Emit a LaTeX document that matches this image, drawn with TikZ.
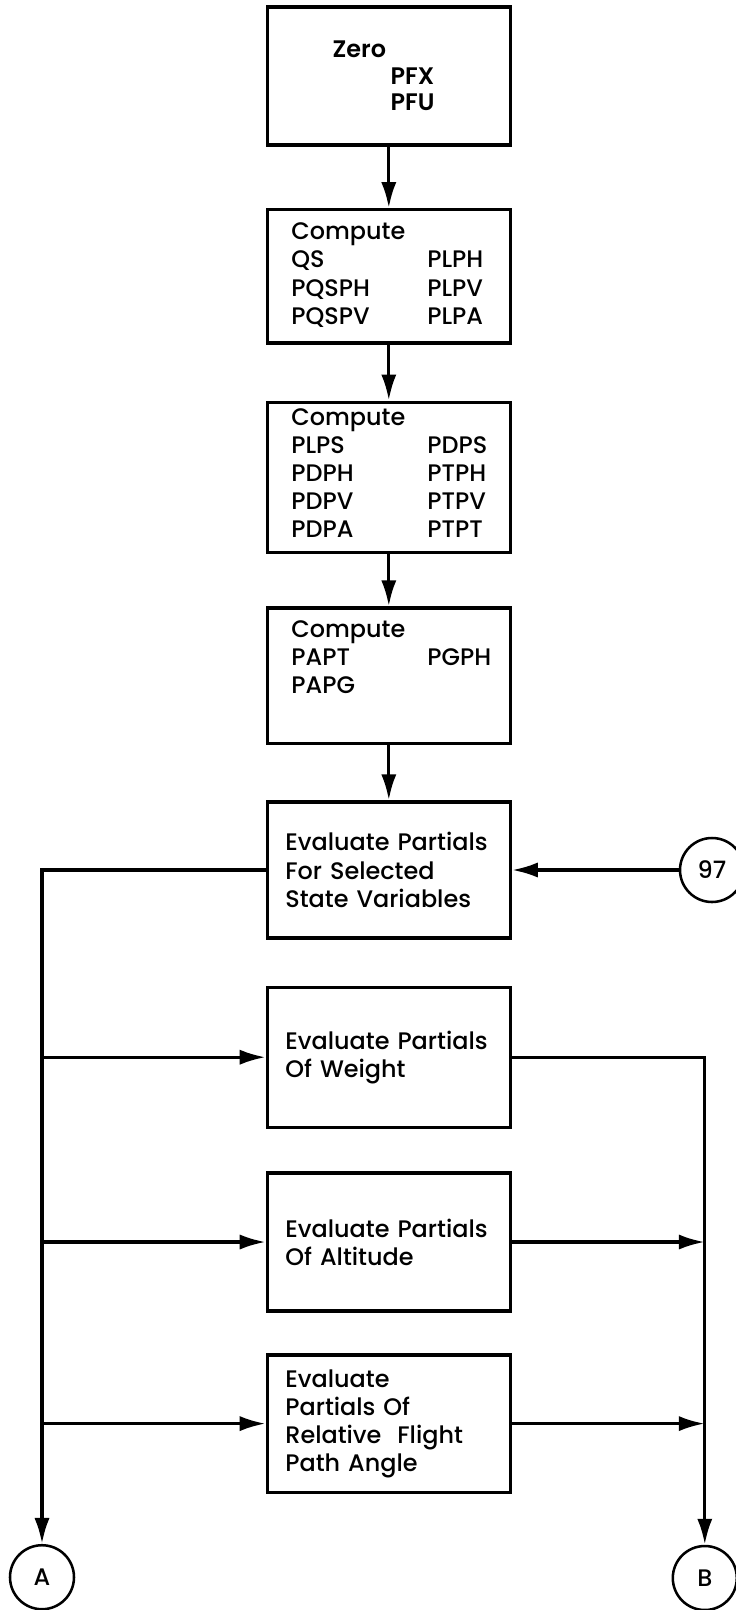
\documentclass[tikz,border=0pt]{standalone}
\usepackage{fontspec}
\setmainfont{Poppins}[UprightFont=* Medium, BoldFont=* SemiBold]
\usetikzlibrary{arrows.meta}

\begin{document}
\begin{tikzpicture}[
    >={Latex[length=0.65cm, width=0.38cm]},
    line/.style  = {line width=2.4pt},
    block/.style = {draw, line width=2.4pt, minimum width=6.07cm,
                    font=\fontsize{17}{20}\selectfont},
    cbox/.style  = {block, text width=4.87cm, inner xsep=0.6cm, inner ysep=0pt},
    ebox/.style  = {block, text width=5.17cm, inner xsep=0.45cm, align=left},
    conn/.style  = {draw, line width=1.8pt, circle, inner sep=0pt,
                    minimum size=1.6cm, font=\fontsize{17}{20}\selectfont}
]
\useasboundingbox (0, 0) rectangle (18.4, -40.25);

% Initialisation and compute blocks
\node[block, minimum height=3.45cm, text width=4.97cm, inner xsep=0.55cm,
      align=left, font=\fontsize{17}{19}\selectfont\bfseries] (Z) at (9.72, -1.9)
    {\hspace*{1.08cm}Zero\\\hspace*{2.53cm}PFX\\\hspace*{2.53cm}PFU};
\node[cbox, text height=0.75cm, text depth=2.58cm] (C1) at (9.72, -6.91)
    {\begin{tabular}[t]{@{}p{3.4cm}@{}l@{}}
     Compute & \\ QS & PLPH \\ PQSPH & PLPV \\ PQSPV & PLPA
     \end{tabular}};
\node[cbox, text height=0.58cm, text depth=3.17cm] (C2) at (9.72, -11.93)
    {\begin{tabular}[t]{@{}p{3.4cm}@{}l@{}}
     Compute & \\ PLPS & PDPS \\ PDPH & PTPH \\ PDPV & PTPV \\ PDPA & PTPT
     \end{tabular}};
\node[cbox, text height=0.73cm, text depth=2.65cm] (C3) at (9.72, -16.89)
    {\begin{tabular}[t]{@{}p{3.4cm}@{}l@{}}
     Compute & \\ PAPT & PGPH \\ PAPG &
     \end{tabular}};

% Partials blocks
\node[ebox, minimum height=3.4cm] (E0) at (9.72, -21.75)
    {Evaluate Partials\\For Selected\\State Variables};
\foreach \b/\y/\h/\t in {E1/-26.43/3.5/{Evaluate Partials\\Of Weight},
                         E2/-31.05/3.45/{Evaluate Partials\\Of Altitude},
                         E3/-35.59/3.43/{Evaluate\\Partials Of\\Relative\ \ Flight\\Path Angle}}
    \node[ebox, minimum height=\h cm] (\b) at (9.72, \y) {\t};

% Connectors
\node[conn] (N97) at (17.8, -21.75) {97};
\node[conn] (A) at (1.05, -39.43) {A};
\node[conn] (B) at (17.62, -39.45) {B};

\foreach \a/\b in {Z/C1, C1/C2, C2/C3, C3/E0}
    \draw[->, line] (\a.south) -- (\b.north);
\draw[->, line] (N97) -- (E0.east);

% Left bus down to A
\draw[->, line] (E0.west) -| (A.north);
\foreach \b in {E1, E2, E3}
    \draw[->, line] (\b.west -| A) -- (\b.west);

% Right bus down to B
\draw[->, line] (E1.east) -| (B.north);
\foreach \b in {E2, E3}
    \draw[->, line] (\b.east) -- (\b.east -| B);

\end{tikzpicture}
\end{document}
